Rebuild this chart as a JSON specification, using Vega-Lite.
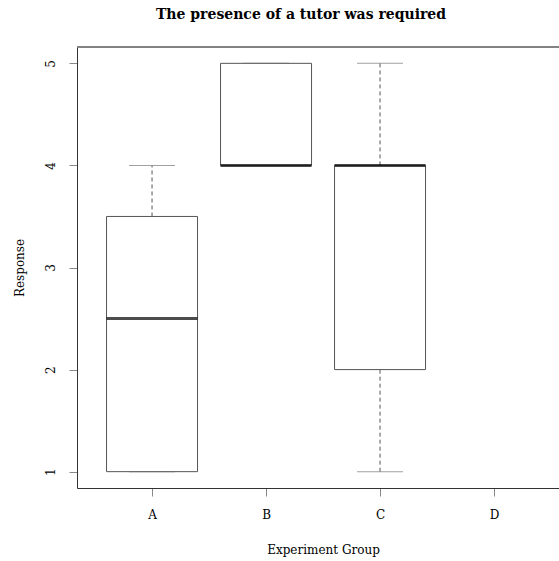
{
  "$schema": "https://vega.github.io/schema/vega-lite/v6.json",
  "autosize": "none",
  "width": 482,
  "height": 441,
  "padding": {"left": 77, "top": 47, "right": 0, "bottom": 73},
  "background": "white",
  "config": {
    "font": "DejaVu Serif",
    "view": {"stroke": null},
    "axis": {"domain": true, "domainColor": "#333333", "grid": false, "tickColor": "#888888", "tickSize": 8, "labelFontSize": 12, "labelColor": "#000000", "titleFontSize": 12, "titleFontWeight": "normal", "titleColor": "#000000"}
  },
  "title": {"text": "The presence of a tutor was required", "fontSize": 14, "fontWeight": "bold", "anchor": "middle", "offset": 24, "color": "#000000", "dx": -17},
  "data": {
    "values": [
      {"group": "A", "lo": 1, "q1": 1, "med": 2.5, "q3": 3.5, "hi": 4},
      {"group": "B", "lo": 4, "q1": 4, "med": 4, "q3": 5, "hi": 5},
      {"group": "C", "lo": 1, "q1": 2, "med": 4, "q3": 4, "hi": 5}
    ]
  },
  "encoding": {
    "x": {
      "field": "group", "type": "nominal",
      "scale": {"type": "point", "domain": ["A", "B", "C", "D"], "padding": 0.614, "align": 0.536},
      "axis": {"title": "Experiment Group", "labelAngle": 0, "labelPadding": 13, "titlePadding": 24, "titleX": 246}
    }
  },
  "layer": [
    {
      "mark": {"type": "rule", "color": "#808080", "strokeWidth": 1.5},
      "encoding": {"x": null, "y": {"datum": 5.16, "type": "quantitative"}}
    },
    {
      "mark": {"type": "rule", "strokeDash": [4, 3], "color": "#555555"},
      "encoding": {
        "y": {"field": "lo", "type": "quantitative", "scale": {"domain": [0.84, 5.16], "nice": false, "zero": false},
              "axis": {"title": "Response", "values": [1, 2, 3, 4, 5], "format": "d", "labelAngle": -90, "labelPadding": 12, "titlePadding": 18}},
        "y2": {"field": "q1"}
      }
    },
    {
      "mark": {"type": "rule", "strokeDash": [4, 3], "color": "#555555"},
      "encoding": {"y": {"field": "q3", "type": "quantitative"}, "y2": {"field": "hi"}}
    },
    {
      "mark": {"type": "tick", "orient": "horizontal", "size": 46, "thickness": 1, "color": "#777777"},
      "encoding": {"y": {"field": "lo", "type": "quantitative"}}
    },
    {
      "mark": {"type": "tick", "orient": "horizontal", "size": 46, "thickness": 1, "color": "#777777"},
      "encoding": {"y": {"field": "hi", "type": "quantitative"}}
    },
    {
      "mark": {"type": "bar", "size": 91, "fill": "white", "stroke": "#555555", "strokeWidth": 1},
      "encoding": {"y": {"field": "q1", "type": "quantitative"}, "y2": {"field": "q3"}}
    },
    {
      "mark": {"type": "tick", "orient": "horizontal", "size": 91, "thickness": 3, "color": "#000000"},
      "encoding": {"y": {"field": "med", "type": "quantitative"}}
    }
  ]
}
